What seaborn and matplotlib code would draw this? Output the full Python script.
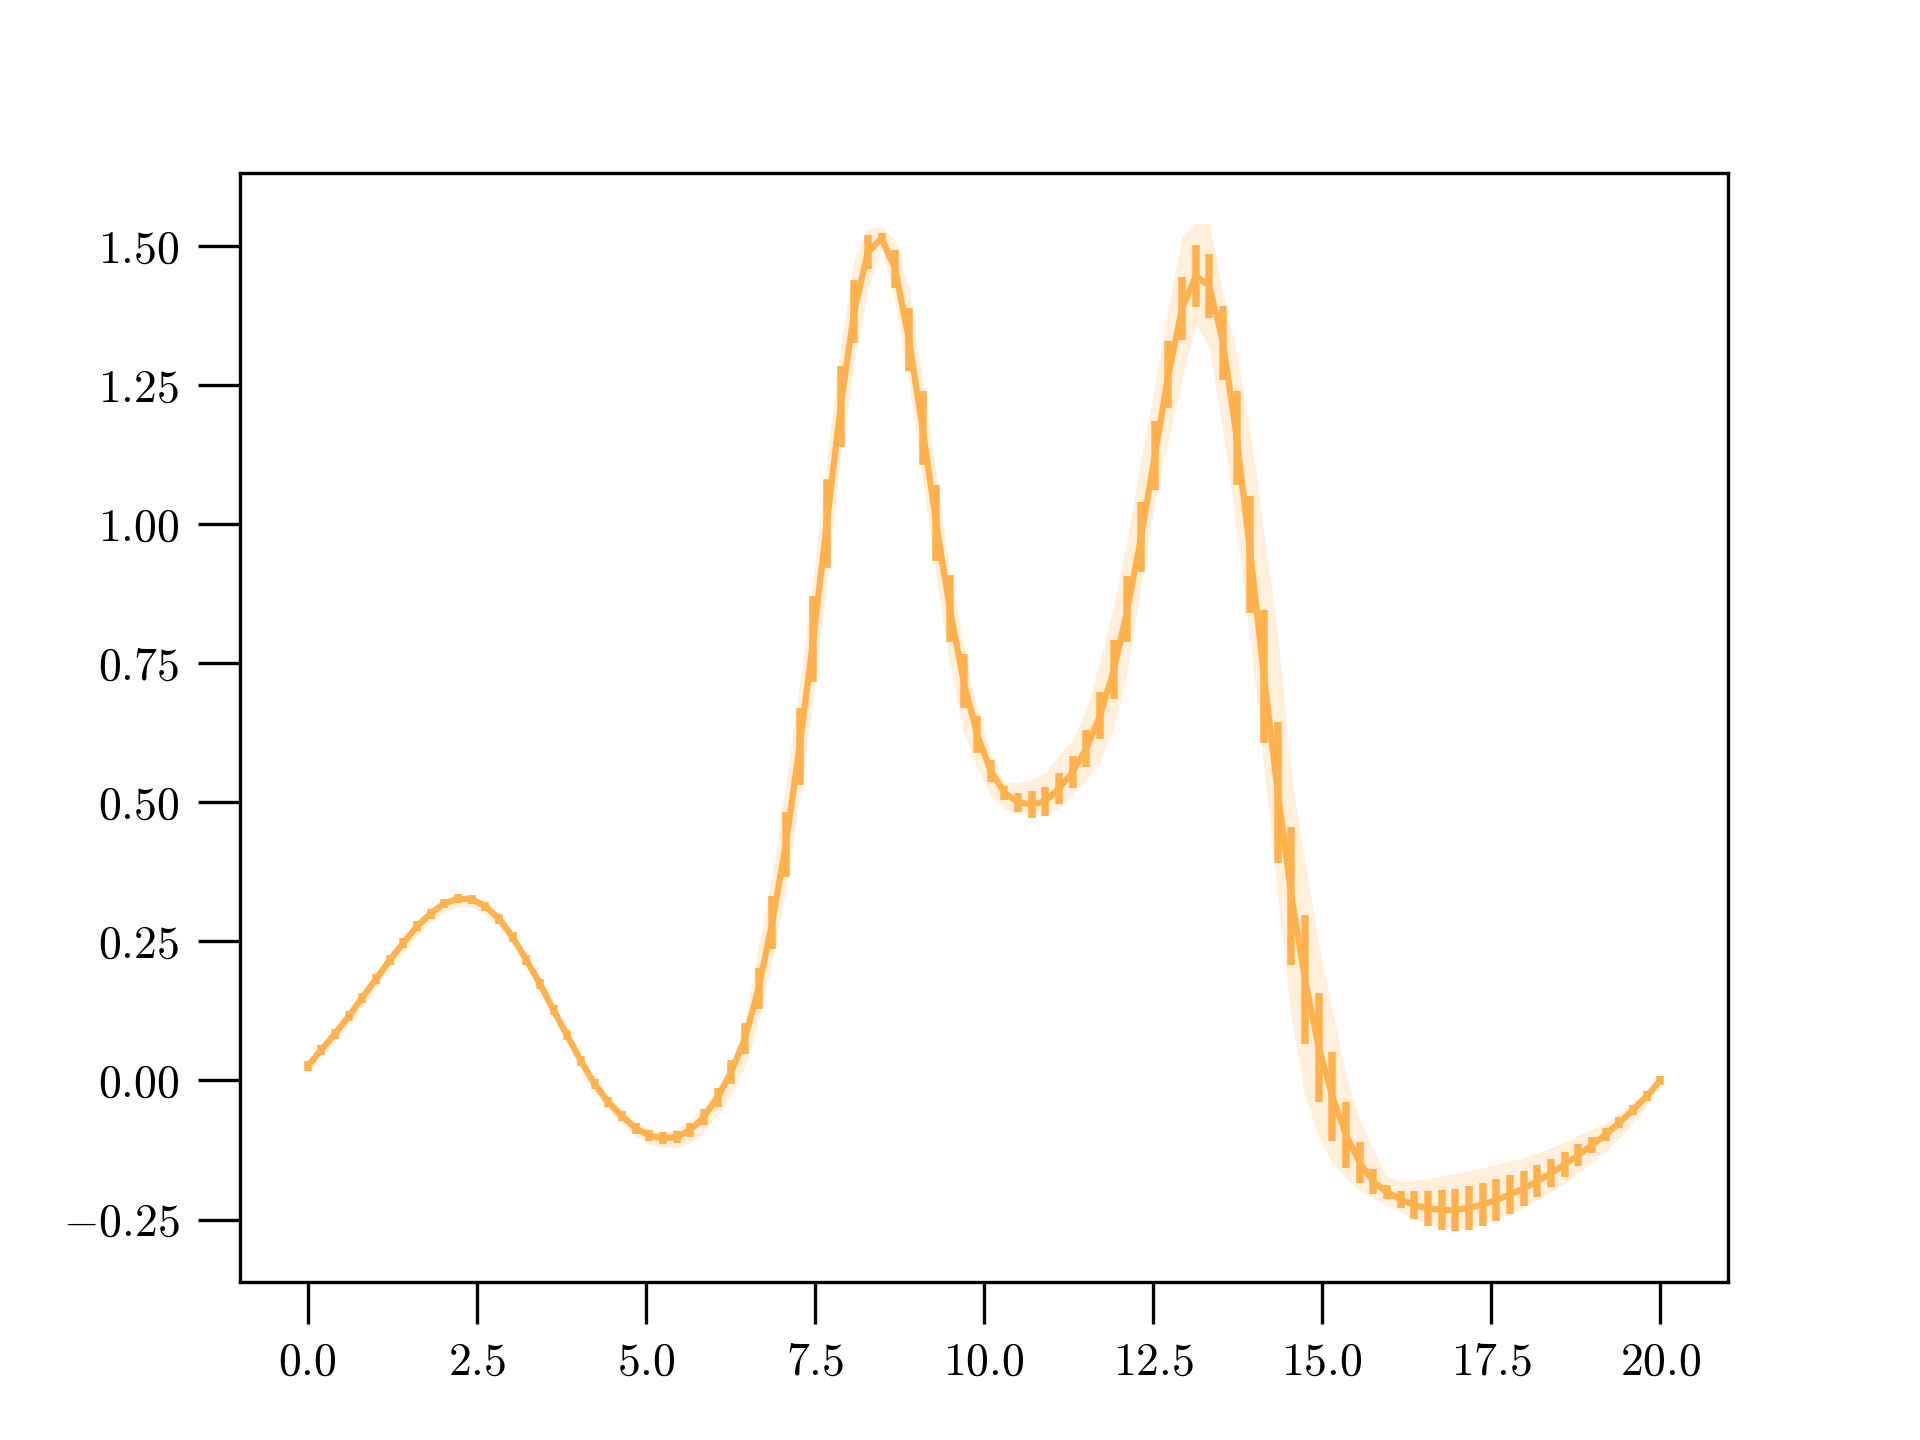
import numpy as np
import matplotlib
matplotlib.use("Agg")
import matplotlib.pyplot as plt
import seaborn as sns

# 100 sample points on [0, 20]
x = np.linspace(0, 20, 100)

# mean curve
mean = [
    0.026, 0.055, 0.084, 0.115, 0.149, 0.182, 0.216, 0.247, 0.277, 0.300,
    0.318, 0.327, 0.326, 0.313, 0.291, 0.258, 0.217, 0.174, 0.126, 0.081,
    0.035, -0.006, -0.039, -0.064, -0.086, -0.099, -0.104, -0.102, -0.089, -0.066,
    -0.030, 0.015, 0.075, 0.165, 0.284, 0.424, 0.600, 0.793, 1.002, 1.211,
    1.382, 1.489, 1.514, 1.459, 1.332, 1.173, 1.002, 0.848, 0.718, 0.622,
    0.556, 0.517, 0.500, 0.496, 0.502, 0.525, 0.555, 0.597, 0.656, 0.738,
    0.847, 0.977, 1.123, 1.269, 1.388, 1.446, 1.428, 1.326, 1.155, 0.945,
    0.726, 0.518, 0.332, 0.181, 0.059, -0.029, -0.098, -0.148, -0.182, -0.201,
    -0.214, -0.224, -0.230, -0.233, -0.233, -0.229, -0.223, -0.215, -0.205, -0.194,
    -0.181, -0.167, -0.151, -0.134, -0.116, -0.097, -0.076, -0.053, -0.028, 0.000,
]

# half length of the error bars
err = [
    0.009, 0.009, 0.009, 0.009, 0.009, 0.009, 0.009, 0.009, 0.009, 0.009,
    0.008, 0.008, 0.008, 0.008, 0.009, 0.009, 0.009, 0.009, 0.009, 0.009,
    0.009, 0.009, 0.009, 0.009, 0.010, 0.010, 0.011, 0.011, 0.012, 0.014,
    0.017, 0.022, 0.028, 0.037, 0.047, 0.058, 0.069, 0.077, 0.080, 0.073,
    0.057, 0.031, 0.010, 0.034, 0.057, 0.067, 0.069, 0.060, 0.049, 0.034,
    0.020, 0.012, 0.017, 0.024, 0.026, 0.028, 0.029, 0.033, 0.042, 0.053,
    0.059, 0.063, 0.062, 0.060, 0.057, 0.055, 0.057, 0.066, 0.085, 0.105,
    0.119, 0.127, 0.124, 0.116, 0.098, 0.080, 0.060, 0.037, 0.022, 0.013,
    0.016, 0.025, 0.032, 0.036, 0.038, 0.040, 0.039, 0.037, 0.035, 0.031,
    0.029, 0.025, 0.022, 0.019, 0.015, 0.012, 0.010, 0.009, 0.009, 0.008,
]

# shaded band, lower and upper edge
band_lo = [
    0.014, 0.042, 0.071, 0.101, 0.134, 0.167, 0.200, 0.231, 0.261, 0.285,
    0.302, 0.311, 0.311, 0.299, 0.277, 0.244, 0.203, 0.160, 0.112, 0.067,
    0.021, -0.020, -0.052, -0.078, -0.100, -0.114, -0.121, -0.121, -0.112, -0.092,
    -0.062, -0.026, 0.025, 0.104, 0.215, 0.341, 0.505, 0.683, 0.890, 1.123,
    1.288, 1.421, 1.498, 1.398, 1.255, 1.079, 0.903, 0.749, 0.627, 0.561,
    0.512, 0.487, 0.479, 0.477, 0.479, 0.490, 0.513, 0.540, 0.574, 0.635,
    0.737, 0.888, 1.036, 1.150, 1.263, 1.361, 1.316, 1.165, 0.990, 0.786,
    0.560, 0.330, 0.110, -0.029, -0.103, -0.149, -0.175, -0.198, -0.212, -0.225,
    -0.236, -0.248, -0.258, -0.264, -0.267, -0.265, -0.258, -0.250, -0.240, -0.228,
    -0.215, -0.200, -0.185, -0.166, -0.147, -0.128, -0.103, -0.078, -0.048, -0.006,
]
band_hi = [
    0.034, 0.064, 0.094, 0.126, 0.160, 0.194, 0.227, 0.258, 0.287, 0.310,
    0.326, 0.333, 0.332, 0.320, 0.299, 0.267, 0.227, 0.184, 0.136, 0.091,
    0.045, 0.004, -0.028, -0.054, -0.075, -0.088, -0.092, -0.088, -0.072, -0.048,
    -0.012, 0.032, 0.105, 0.242, 0.370, 0.534, 0.715, 0.903, 1.115, 1.322,
    1.476, 1.531, 1.536, 1.509, 1.426, 1.266, 1.090, 0.914, 0.781, 0.672,
    0.583, 0.535, 0.535, 0.542, 0.555, 0.585, 0.612, 0.669, 0.756, 0.854,
    0.975, 1.119, 1.248, 1.392, 1.517, 1.541, 1.541, 1.414, 1.308, 1.164,
    0.983, 0.800, 0.545, 0.390, 0.246, 0.126, 0.009, -0.069, -0.126, -0.172,
    -0.183, -0.180, -0.176, -0.172, -0.167, -0.162, -0.157, -0.151, -0.145, -0.138,
    -0.130, -0.121, -0.111, -0.099, -0.088, -0.075, -0.058, -0.039, -0.017, 0.008,
]

color = "#ffb14e"

sns.set_style("ticks")
plt.rcParams["font.family"] = "serif"
plt.rcParams["font.serif"] = ["cmr10", "DejaVu Serif"]
plt.rcParams["mathtext.fontset"] = "cm"
plt.rcParams["axes.formatter.use_mathtext"] = True
plt.rcParams["axes.linewidth"] = 0.8
plt.rcParams["axes.edgecolor"] = "black"

fig, ax = plt.subplots(figsize=(6.4, 4.8), dpi=300)

ax.fill_between(x, band_lo, band_hi, color=color, alpha=0.2, lw=0)
ax.errorbar(x, mean, yerr=err, fmt="none", ecolor=color, elinewidth=1.8)
sns.lineplot(x=x, y=mean, color=color, lw=1.5, ax=ax)

ax.set_xticks([0, 2.5, 5, 7.5, 10, 12.5, 15, 17.5, 20])
ax.set_yticks([-0.25, 0, 0.25, 0.5, 0.75, 1.0, 1.25, 1.5])
ax.xaxis.set_major_formatter(plt.FormatStrFormatter(r"$%.1f$"))
ax.yaxis.set_major_formatter(plt.FormatStrFormatter(r"$%.2f$"))
ax.tick_params(axis="both", direction="out", length=10, width=0.8,
               labelsize=11, pad=4.5, colors="black")
for s in ax.spines.values():
    s.set_visible(True)
    s.set_color("black")

fig.savefig("out.png", dpi=300)
